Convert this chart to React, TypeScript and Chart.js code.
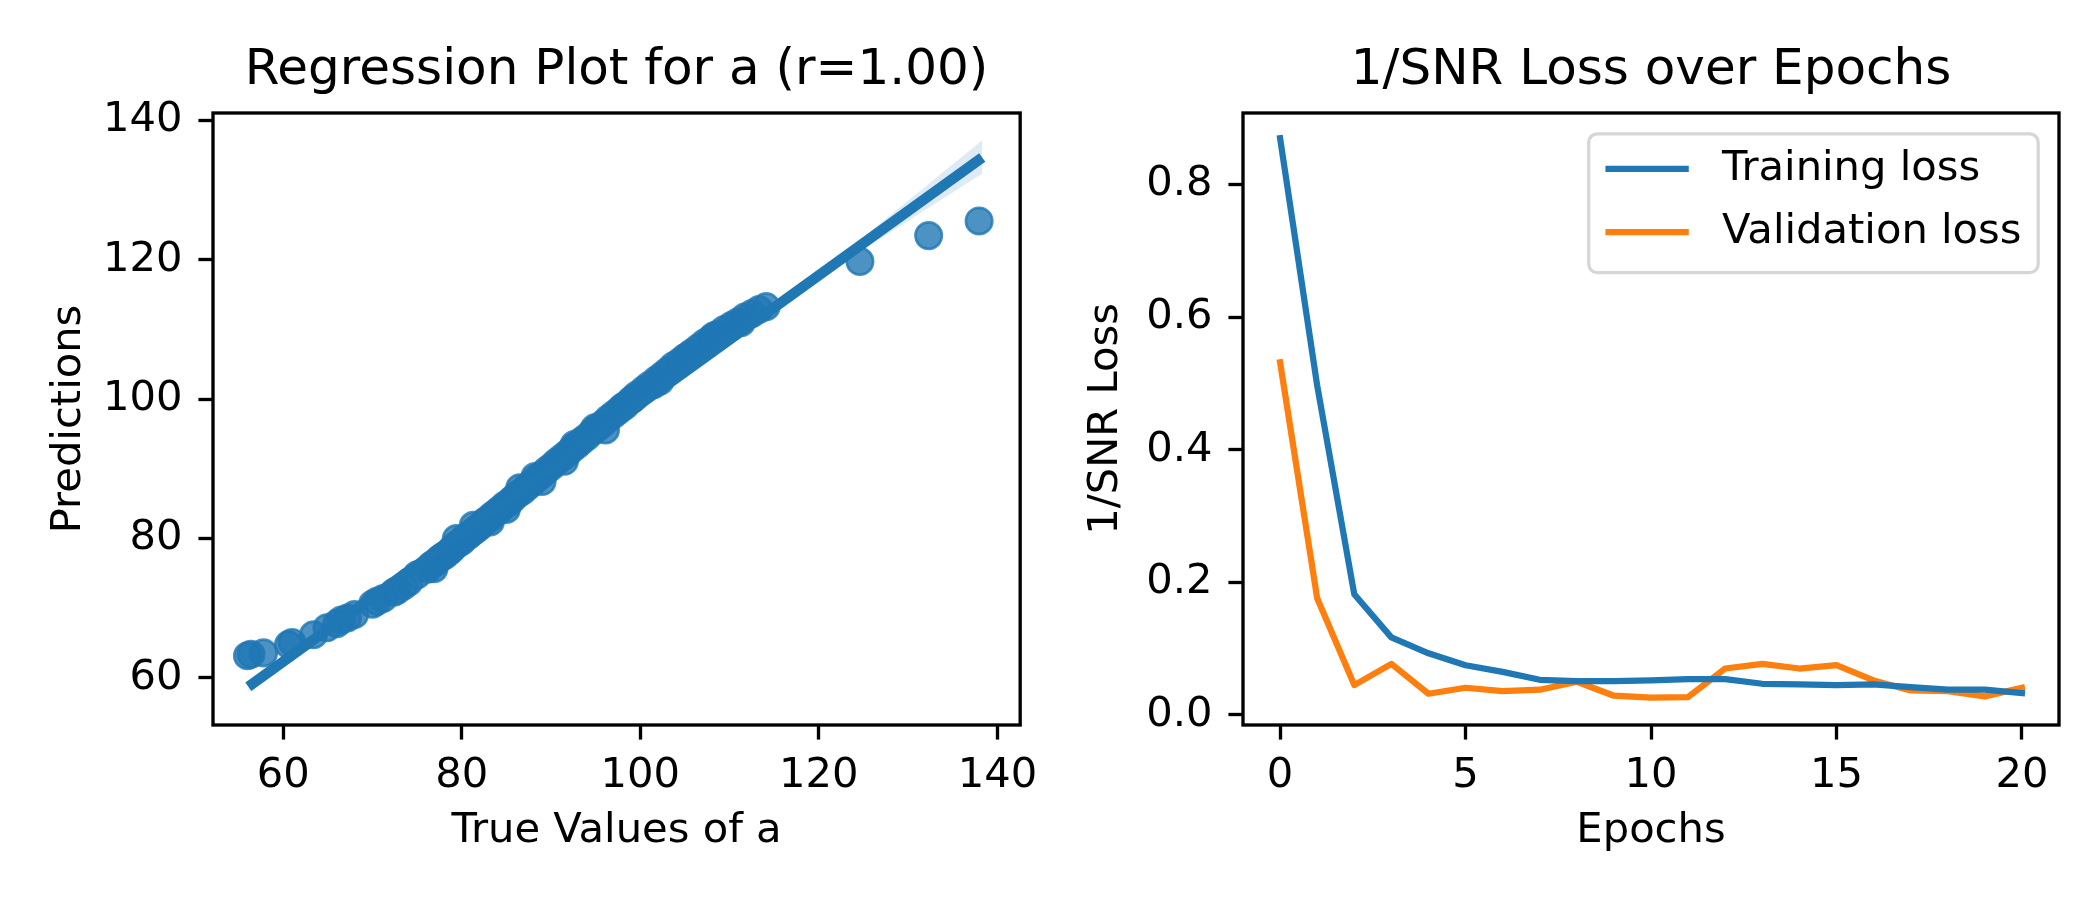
import { useEffect, useRef } from 'react'
import { Chart, registerables } from 'chart.js'

Chart.register(...registerables)

// matplotlib figure, 7x3 in at 300 dpi -> 1pt = 300/72 px
const PT = 300 / 72
const FONT = 'DejaVu Sans'
const BLUE = '#1f77b4'
const ORANGE = '#ff7f0e'

// --- left panel: regression plot ---
const TRUE_VALUES = [
  56.0, 56.4, 57.8, 60.6, 61.0, 63.4, 64.9, 66.0, 66.5, 67.2,
  68.0, 70.0, 70.5, 71.2, 72.4, 72.8, 73.5, 74.1, 75.0, 76.2,
  76.6, 77.0, 77.4, 77.8, 78.1, 78.5, 78.9, 79.2, 79.6, 80.0,
  80.3, 80.7, 81.1, 81.5, 81.9, 82.2, 82.6, 83.0, 83.4, 83.9,
  84.3, 84.8, 85.3, 85.7, 86.2, 86.8, 87.3, 87.9, 88.4, 88.9,
  89.5, 90.1, 90.6, 91.2, 91.8, 92.3, 92.9, 93.4, 94.0, 94.6,
  95.2, 95.8, 96.4, 97.0, 97.6, 98.3, 98.9, 99.6, 100.4, 101.0,
  101.8, 102.5, 103.1, 103.7, 104.4, 105.0, 105.8, 106.5, 107.2, 107.9,
  108.6, 109.4, 110.2, 110.9, 111.7, 112.5, 113.3, 114.1, 124.6, 132.3,
  137.95, 79.4, 83.2, 86.5, 89.0, 92.6, 96.1, 99.2, 102.2, 105.4,
  108.2, 111.3, 76.9, 81.3, 85.0, 88.2, 91.5, 94.9, 98.0, 101.5,
]
const PREDICTIONS = [
  63.2, 63.4, 63.6, 64.8, 65.1, 66.2, 67.2, 67.8, 68.3, 68.6,
  69.1, 70.6, 71.0, 71.4, 72.3, 72.6, 73.2, 73.8, 74.8, 75.6,
  76.2, 76.5, 77.0, 77.4, 77.6, 78.0, 78.5, 78.9, 79.3, 79.6,
  80.1, 80.4, 80.8, 81.2, 81.6, 82.0, 82.5, 82.8, 83.3, 83.8,
  84.2, 84.8, 85.2, 85.7, 86.3, 86.8, 87.4, 88.0, 88.6, 89.1,
  89.8, 90.4, 91.0, 91.6, 92.2, 92.8, 93.4, 94.0, 94.6, 95.3,
  95.9, 96.5, 97.2, 97.8, 98.4, 99.1, 99.8, 100.6, 101.4, 102.0,
  102.8, 103.5, 104.1, 104.8, 105.4, 106.0, 106.7, 107.4, 108.1, 108.7,
  109.3, 110.0, 110.6, 111.1, 111.8, 112.3, 112.9, 113.3, 119.8, 123.5,
  125.6, 80.0, 82.4, 87.3, 88.2, 93.5, 95.6, 100.1, 102.6, 106.3,
  109.1, 111.0, 75.7, 81.9, 84.2, 88.9, 91.1, 95.9, 98.9, 102.1,
]
const FIT_X = [56.1, 138.3]
const FIT_Y = [58.75, 134.7]
const BAND_X = [56.1, 70, 85, 100, 115, 125, 138.3]
const BAND_LO = [57.9, 71.2, 85.2, 99.1, 112.8, 121.5, 132.4]
const BAND_HI = [59.5, 71.9, 85.7, 99.5, 113.6, 123.3, 137.2]
const REG_X_TICKS = [60, 80, 100, 120, 140]
const REG_Y_TICKS = [60, 80, 100, 120, 140]

// --- right panel: loss curves ---
const EPOCHS = [0, 1, 2, 3, 4, 5, 6, 7, 8, 9, 10, 11, 12, 13, 14, 15, 16, 17, 18, 19, 20]
const TRAIN_LOSS = [0.870, 0.497, 0.182, 0.117, 0.093, 0.075, 0.065, 0.053, 0.051, 0.051, 0.052,
  0.054, 0.054, 0.047, 0.046, 0.045, 0.046, 0.042, 0.038, 0.038, 0.033]
const VAL_LOSS = [0.532, 0.176, 0.045, 0.077, 0.032, 0.041, 0.036, 0.038, 0.050, 0.029, 0.026,
  0.027, 0.070, 0.077, 0.070, 0.075, 0.052, 0.037, 0.036, 0.028, 0.041]
const LOSS_X_TICKS = [0, 5, 10, 15, 20]
const LOSS_Y_TICKS = [0, 0.2, 0.4, 0.6, 0.8]

const pts = (xs: number[], ys: number[]) => xs.map((x, i) => ({ x, y: ys[i] }))

// all four spines, drawn over the data like matplotlib does
const framePlugin = {
  id: 'frame',
  afterDatasetsDraw(chart: any) {
    const { ctx, chartArea: a } = chart
    ctx.save()
    ctx.strokeStyle = '#000'
    ctx.lineWidth = 0.8 * PT
    ctx.strokeRect(a.left, a.top, a.right - a.left, a.bottom - a.top)
    ctx.restore()
  },
}

// matplotlib-style legend box inside the upper right corner
const insetLegendPlugin = {
  id: 'insetLegend',
  afterDraw(chart: any) {
    const opts = chart.options.plugins.insetLegend
    if (!opts || !opts.display) return
    const { ctx, chartArea: a } = chart
    const fs = 10 * PT
    const items = chart.data.datasets
    ctx.save()
    ctx.font = `${fs}px "${FONT}"`
    const textW = Math.max(...items.map((d: any) => ctx.measureText(d.label).width))
    const pad = 0.4 * fs
    const handle = 2 * fs
    const gap = 0.8 * fs
    const w = pad + handle + gap + textW + pad
    const h = 3.33 * fs
    const x = a.right - 0.5 * fs - w
    const y = a.top + 0.5 * fs
    ctx.beginPath()
    ctx.roundRect(x, y, w, h, 0.2 * fs)
    ctx.fillStyle = 'rgba(255,255,255,0.8)'
    ctx.fill()
    ctx.strokeStyle = 'rgba(204,204,204,0.8)'
    ctx.lineWidth = 0.8 * PT
    ctx.stroke()
    items.forEach((d: any, i: number) => {
      const cy = y + 0.84 * fs + i * 1.52 * fs
      ctx.beginPath()
      ctx.moveTo(x + pad, cy)
      ctx.lineTo(x + pad + handle, cy)
      ctx.strokeStyle = d.borderColor
      ctx.lineWidth = 1.5 * PT
      ctx.stroke()
      ctx.fillStyle = '#000'
      ctx.textBaseline = 'middle'
      ctx.textAlign = 'left'
      ctx.fillText(d.label, x + pad + handle + gap, cy)
    })
    ctx.restore()
  },
}

function axis(opts: {
  min: number
  max: number
  ticks: number[]
  title: string
  titlePad: any
  size: any
  vertical: boolean
  fmt: (v: number) => string
}) {
  return {
    type: 'linear',
    min: opts.min,
    max: opts.max,
    afterBuildTicks: (s: any) => {
      s.ticks = opts.ticks.map(v => ({ value: v }))
    },
    afterFit: (s: any) => {
      if (opts.vertical) s.width = opts.size
      else s.height = opts.size
    },
    grid: {
      drawOnChartArea: false,
      drawTicks: true,
      tickLength: 3.5 * PT,
      tickWidth: 0.8 * PT,
      tickColor: '#000',
    },
    border: { display: false },
    ticks: {
      color: '#000',
      padding: opts.vertical ? 16 : 12,
      font: { family: FONT, size: 10 * PT },
      callback: (v: any) => opts.fmt(Number(v)),
      maxRotation: 0,
      autoSkip: false,
    },
    title: {
      display: true,
      text: opts.title,
      color: '#000',
      font: { family: FONT, size: 10 * PT },
      padding: opts.titlePad,
    },
  }
}

const chartTitle = (text: string) => ({
  display: true,
  text,
  color: '#000',
  fullSize: false,
  font: { family: FONT, size: 12 * PT, weight: 'normal' },
  padding: { top: 41, bottom: 12 },
})

function regressionConfig(): any {
  return {
    type: 'line',
    data: {
      datasets: [
        {
          label: 'points',
          data: pts(TRUE_VALUES, PREDICTIONS),
          showLine: false,
          pointRadius: 13.2,
          pointBorderWidth: 2.7,
          pointBackgroundColor: 'rgba(31,119,180,0.8)',
          pointBorderColor: 'rgba(31,119,180,0.8)',
          order: 3,
        },
        {
          label: 'ci-low',
          data: pts(BAND_X, BAND_LO),
          borderWidth: 0,
          pointRadius: 0,
          fill: false,
          order: 2,
        },
        {
          label: 'ci-high',
          data: pts(BAND_X, BAND_HI),
          borderWidth: 0,
          pointRadius: 0,
          fill: '-1',
          backgroundColor: 'rgba(31,119,180,0.15)',
          order: 2,
        },
        {
          label: 'fit',
          data: pts(FIT_X, FIT_Y),
          borderColor: BLUE,
          borderWidth: 2.5 * PT,
          borderCapStyle: 'butt',
          pointRadius: 0,
          order: 1,
        },
      ],
    },
    options: {
      animation: false,
      responsive: false,
      devicePixelRatio: 1,
      layout: { padding: { left: 0, right: 20, top: 0, bottom: 0 } },
      scales: {
        x: axis({
          min: 52.14, max: 142.55, ticks: REG_X_TICKS, title: 'True Values of a',
          titlePad: { top: 0, bottom: 44 }, size: 175, vertical: false, fmt: v => String(v),
        }),
        y: axis({
          min: 53.25, max: 141.1, ticks: REG_Y_TICKS, title: 'Predictions',
          titlePad: { top: 44, bottom: 0 }, size: 213, vertical: true, fmt: v => String(v),
        }),
      },
      plugins: {
        legend: { display: false },
        tooltip: { enabled: false },
        title: chartTitle('Regression Plot for a (r=1.00)'),
      },
    },
    plugins: [framePlugin],
  }
}

function lossConfig(): any {
  const line = (label: string, ys: number[], color: string) => ({
    label,
    data: pts(EPOCHS, ys),
    borderColor: color,
    backgroundColor: color,
    borderWidth: 1.5 * PT,
    borderJoinStyle: 'round',
    borderCapStyle: 'square',
    pointRadius: 0,
    tension: 0,
  })
  return {
    type: 'line',
    data: {
      datasets: [
        line('Training loss', TRAIN_LOSS, BLUE),
        line('Validation loss', VAL_LOSS, ORANGE),
      ],
    },
    options: {
      animation: false,
      responsive: false,
      devicePixelRatio: 1,
      layout: { padding: { left: 0, right: 41, top: 0, bottom: 0 } },
      scales: {
        x: axis({
          min: -1, max: 21, ticks: LOSS_X_TICKS, title: 'Epochs',
          titlePad: { top: 0, bottom: 44 }, size: 175, vertical: false, fmt: v => String(v),
        }),
        y: axis({
          min: -0.0152, max: 0.908, ticks: LOSS_Y_TICKS, title: '1/SNR Loss',
          titlePad: { top: 31, bottom: 0 }, size: 193, vertical: true, fmt: v => v.toFixed(1),
        }),
      },
      plugins: {
        legend: { display: false },
        tooltip: { enabled: false },
        title: chartTitle('1/SNR Loss over Epochs'),
        insetLegend: { display: true },
      },
    },
    plugins: [framePlugin, insetLegendPlugin],
  }
}

function Panel({ left, makeConfig }: { left: number; makeConfig: () => any }) {
  const canvasRef = useRef<HTMLCanvasElement>(null)

  useEffect(() => {
    if (!canvasRef.current) return
    const chart = new Chart(canvasRef.current, makeConfig())
    return () => chart.destroy()
  }, [makeConfig])

  return (
    <canvas
      ref={canvasRef}
      width={1050}
      height={900}
      style={{ position: 'absolute', left, top: 0, width: 1050, height: 900 }}
    />
  )
}

export default function App() {
  return (
    <div style={{ position: 'fixed', left: 0, top: 0, width: 2100, height: 900, background: '#fff' }}>
      <Panel left={0} makeConfig={regressionConfig} />
      <Panel left={1050} makeConfig={lossConfig} />
    </div>
  )
}
